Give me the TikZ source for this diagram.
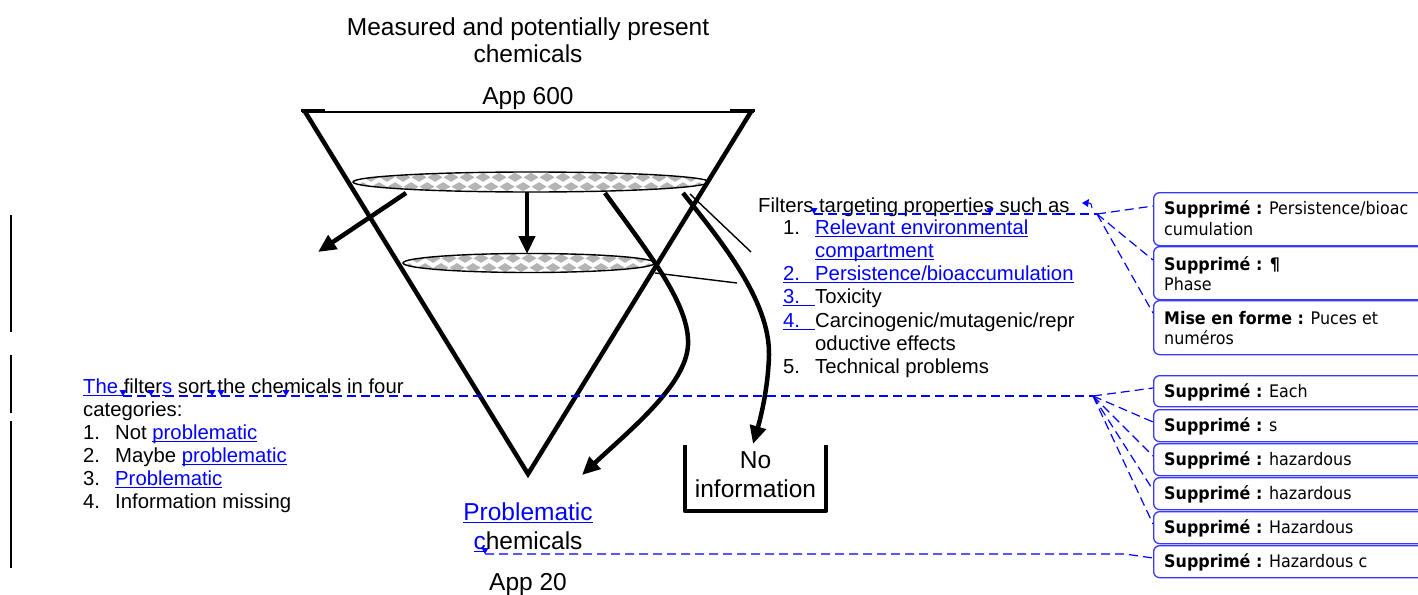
\documentclass[tikz,border=0pt]{standalone}
\usepackage{fontspec}
\setmainfont{Liberation Sans}
\newfontfamily\notefont[FakeStretch=0.92]{DejaVu Sans}
\usetikzlibrary{arrows.meta,shapes.geometric,calc}

\definecolor{revblue}{RGB}{0,0,255}
\definecolor{noteblue}{RGB}{55,55,255}
\definecolor{diag}{RGB}{180,180,180}

% underline drawn as a rule that crosses descenders
\newsavebox\ulbox
\newcommand\myul[1]{\sbox\ulbox{#1}\rlap{\rule[-3.4pt]{\wd\ulbox}{1.6pt}}\usebox\ulbox}
\newcommand\rev[1]{{\color{revblue}\myul{#1}}}
\newcommand\bigtxt{\fontsize{24.5pt}{28pt}\selectfont}
\newcommand\smalltxt{\fontsize{20.3pt}{23pt}\selectfont}
\newcommand\notetxt{\notefont\fontsize{17.3pt}{20pt}\selectfont}

\begin{document}
\begin{tikzpicture}[x=1pt,y=-1pt,
  big/.style={font=\bigtxt, inner sep=0pt, anchor=base},
  lst/.style={font=\smalltxt, inner sep=0pt, anchor=base west},
  note/.style={font=\notetxt, inner sep=0pt, anchor=base west},
  notebox/.style={draw=noteblue, line width=1.3pt, rounded corners=6pt,
    minimum width=300pt, anchor=north west, inner sep=0pt},
  wall/.style={line width=4.5pt, line join=miter},
  flow/.style={line width=4.5pt, -{Triangle[length=18pt,width=16pt]}},
  pointer/.style={line width=1.4pt},
  revline/.style={revblue, line width=1.2pt, dash pattern=on 9pt off 5pt},
  checkfill/.style={path picture={
    \foreach \k in {-12,...,12}{
      \fill[diag] ([shift={(\k*16-7.5,-4.7)}]path picture bounding box.center)
        -- ++(7.5,-4.5) -- ++(7.5,4.5) -- ++(-7.5,4.5) -- cycle;
      \fill[diag] ([shift={(\k*16+0.5,4.7)}]path picture bounding box.center)
        -- ++(7.5,-4.5) -- ++(7.5,4.5) -- ++(-7.5,4.5) -- cycle;
    }}},
  filter/.style={ellipse, draw, line width=1.4pt, inner sep=0pt, checkfill}
]
\newcommand\revmark[1]{\fill[revblue] (#1) ++(-3.5,-6) -- ++(7,0) -- ++(-3.5,6) -- cycle;}

\fill[white] (0,0) rectangle (1418,594);
\useasboundingbox (0,0) rectangle (1418,594);

% change bars in the margin
\draw[line width=2.2pt] (11,215) -- (11,332);
\draw[line width=2.2pt] (11,355) -- (11,413);
\draw[line width=2.2pt] (11,421) -- (11,568);

% heading
\node[big] (head1) at (528,36) {Measured and potentially present};
\node[big] (head2) at (528,63) {chemicals};
\node[big] (app600) at (528,104) {App 600};

% filter discs
\node[filter, minimum width=356pt, minimum height=20pt] (f1) at (531,182) {};
\node[filter, minimum width=252pt, minimum height=19pt] (f2) at (529,263) {};

% funnel
\coordinate (tl) at (304,110);
\coordinate (tr) at (752,110);
\coordinate (tip) at (528,474);
\draw[wall] (tl) -- (tip) -- (tr);
\draw[line width=2.8pt] (302,112) -- (754,112);
\draw[line width=3.5pt] (301,110.5) -- (325,110.5);
\draw[line width=3.5pt] (730,110.5) -- (755,110.5);

% flows out of the filters
\coordinate (a1s) at (406,193);
\coordinate (a1e) at (318,252);
\draw[flow] (a1s) -- (a1e);
\coordinate (a2s) at (527,192);
\coordinate (a2e) at (527,254);
\draw[flow] (a2s) -- (a2e);
\coordinate (a3s) at (605,193);
\coordinate (a3m) at (688,345);
\coordinate (a3e) at (582,475);
\draw[flow] (a3s) .. controls (650,255) and (690,305) .. (a3m)
  .. controls (686,385) and (630,430) .. (a3e);
\coordinate (a4s) at (683,193);
\coordinate (a4m) at (769,355);
\coordinate (a4e) at (753,444);
\draw[flow] (a4s) .. controls (720,240) and (770,300) .. (a4m)
  .. controls (768,390) and (760,420) .. (a4e);

% pointers from the discs to the filter list
\coordinate (p1s) at (690,194);
\coordinate (p1e) at (751,252);
\draw[pointer] (p1s) -- (p1e);
\coordinate (p2s) at (655,273);
\coordinate (p2e) at (737,283);
\draw[pointer] (p2s) -- (p2e);

% bin for chemicals without data
\draw[line width=4.2pt, line join=round] (685,445) -- (685,511) -- (826,511) -- (826,445);
\node[big] (no) at (755.5,468) {No};
\node[big] (info) at (755.5,497) {information};

% result
\node[big] (prob) at (528,520) {\rev{Problematic}};
\node[big] (chem) at (528,549) {\rev{c}hemicals};
\node[big] (app20) at (528,590) {App 20};

% filter list
\node[lst] (ft) at (758,212) {Filters targeting properties such as};
\node[lst] at (783,234) {1.};
\node[lst] at (815,234) {\rev{Relevant environmental}};
\node[lst] at (815,257) {\rev{compartment}};
\node[lst] at (783,280) {\rev{\makebox[32pt][l]{2.}Persistence/bioaccumulation}};
\node[lst] at (783,303) {\rev{\makebox[32pt][l]{3.}}Toxicity};
\node[lst] at (783,327) {\rev{\makebox[32pt][l]{4.}}Carcinogenic/mutagenic/repr};
\node[lst] at (815,350) {oductive effects};
\node[lst] at (783,373) {5.};
\node[lst] at (815,373) {Technical problems};

% category list
\node[lst] (cat) at (83,393) {\rev{The }filter\rev{s} sort the chemicals in four};
\node[lst] at (83,416) {categories:};
\node[lst] at (83,439) {1.};
\node[lst] at (115,439) {Not \rev{problematic}};
\node[lst] at (83,462) {2.};
\node[lst] at (115,462) {Maybe \rev{problematic}};
\node[lst] at (83,485) {3.};
\node[lst] at (115,485) {\rev{Problematic}};
\node[lst] at (83,508) {4.};
\node[lst] at (115,508) {Information missing};

% revision balloons
\node[notebox, minimum height=53pt] (b1) at (1153,192) {};
\node[notebox, minimum height=53pt] (b2) at (1153,246) {};
\node[notebox, minimum height=54pt] (b3) at (1153,300) {};
\node[note] at (1164,214) {\textbf{Supprimé :} Persistence/bioac};
\node[note] at (1164,235) {cumulation};
\node[note] at (1164,270) {\textbf{Supprimé : ¶}};
\node[note] at (1164,290) {Phase};
\node[note] at (1164,324) {\textbf{Mise en forme :} Puces et};
\node[note] at (1164,344) {numéros};

\node[notebox, minimum height=31pt] (c1) at (1153,375) {};
\node[notebox, minimum height=32pt] (c2) at (1153,409) {};
\node[notebox, minimum height=32pt] (c3) at (1153,443) {};
\node[notebox, minimum height=32pt] (c4) at (1153,477) {};
\node[notebox, minimum height=32pt] (c5) at (1153,511) {};
\node[notebox, minimum height=32pt] (c6) at (1153,545) {};
\node[note] at (1164,397) {\textbf{Supprimé :} Each};
\node[note] at (1164,431) {\textbf{Supprimé :} s};
\node[note] at (1164,465) {\textbf{Supprimé :} hazardous};
\node[note] at (1164,499) {\textbf{Supprimé :} hazardous};
\node[note] at (1164,533) {\textbf{Supprimé :} Hazardous};
\node[note] at (1164,567) {\textbf{Supprimé :} Hazardous c};

% revision anchors and leader lines
\coordinate (m1) at (814,214);
\coordinate (m2) at (990,214);
\coordinate (j1) at (1097,214);
\revmark{m1}
\revmark{m2}
\fill[revblue] (1082,203) -- (1089,199) -- (1088,207) -- cycle;
\draw[revblue, line width=1pt] (1087,203) .. controls (1091,203) .. (1092,208);
\draw[revline] (m1) -- (j1);
\draw[revline] (j1) -- ([yshift=-14pt]b1.north west);
\draw[revline] (j1) -- ([yshift=-14pt]b2.north west);
\draw[revline] (j1) -- ([yshift=-13pt]b3.north west);

\coordinate (n1) at (123,396);
\coordinate (n2) at (151,396);
\coordinate (n3) at (212,396);
\coordinate (n4) at (221,396);
\coordinate (n5) at (286,396);
\coordinate (j2) at (1093,396);
\foreach \m in {n1,n2,n3,n4,n5} {\revmark{\m}}
\draw[revline] (n1) -- (j2);
\foreach \b in {c1,c2,c3,c4,c5}
  \draw[revline] (j2) -- ([yshift=-13pt]\b.north west);

\coordinate (n6) at (485,554);
\coordinate (j3) at (1125,554);
\revmark{n6}
\draw[revline] (n6) -- (j3) -- ([yshift=-13pt]c6.north west);
\end{tikzpicture}
\end{document}
